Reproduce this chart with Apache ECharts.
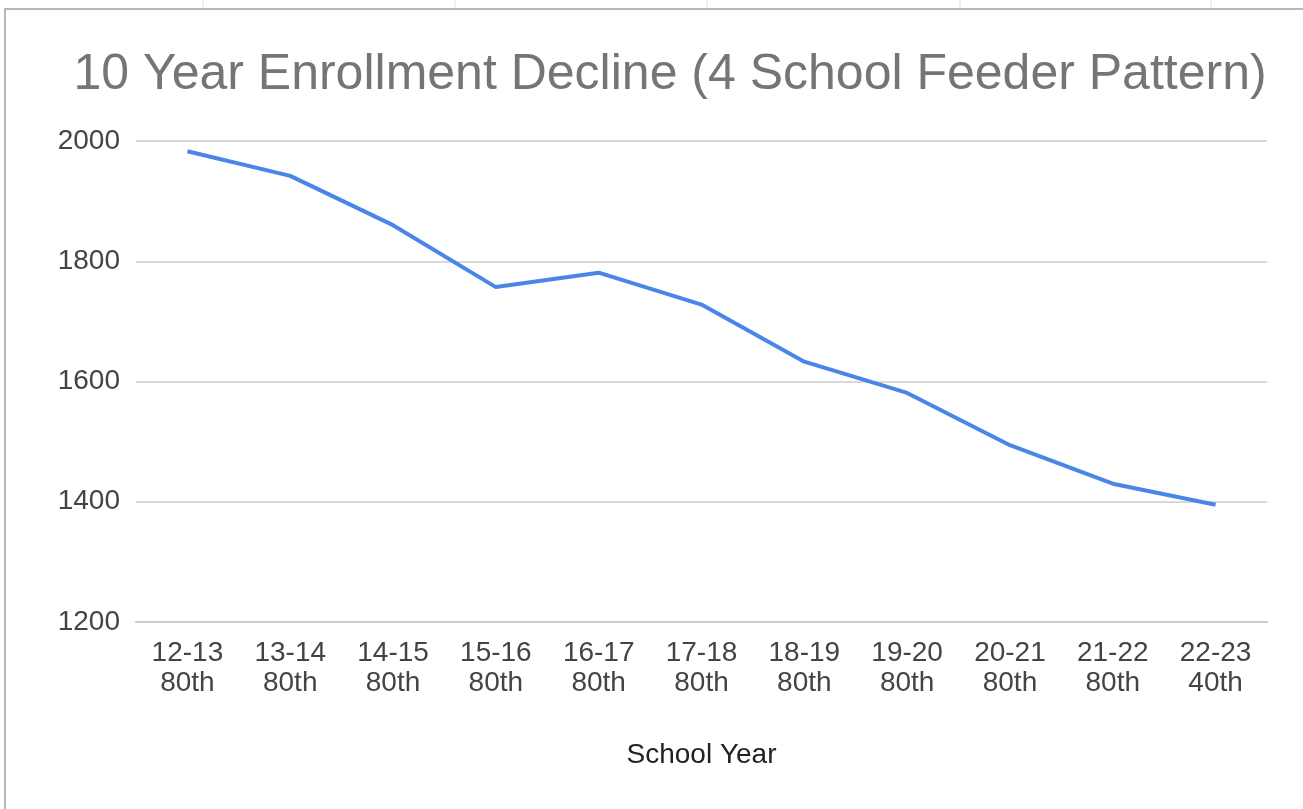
<!DOCTYPE html>
<html>
<head>
<meta charset="utf-8">
<script src="https://cdn.jsdelivr.net/npm/echarts@6/dist/echarts.min.js"></script>
<style>
html,body{margin:0;padding:0;background:#fff;}
#c{width:1303px;height:809px;}
</style>
</head>
<body>
<div id="c"></div>
<script>
const titleText = '10 Year Enrollment Decline (4 School Feeder Pattern)';
const xAxisName = 'School Year';
const schoolYears = ['12-13','13-14','14-15','15-16','16-17','17-18','18-19','19-20','20-21','21-22','22-23'];
const percentiles = ['80th','80th','80th','80th','80th','80th','80th','80th','80th','80th','40th'];
const enrollment = [1983, 1942, 1860, 1757, 1781, 1728, 1633, 1581, 1494, 1430, 1395];
const yMin = 1200, yMax = 2000, yStep = 200;

const categories = schoolYears.map((y, i) => y + '\n' + percentiles[i]);
const chart = echarts.init(document.getElementById('c'));
const font = 'Liberation Sans, Arial, sans-serif';
chart.setOption({
  animation: false,
  backgroundColor: '#fff',
  graphic: [
    {type:'rect', shape:{x:5, y:9, width:1320, height:830}, style:{fill:'none', stroke:'#b7b7b7', lineWidth:2}, silent:true, z:-10},
    {type:'line', shape:{x1:203,y1:0,x2:203,y2:8}, style:{stroke:'#e2e2e2', lineWidth:1}},
    {type:'line', shape:{x1:455,y1:0,x2:455,y2:8}, style:{stroke:'#e2e2e2', lineWidth:1}},
    {type:'line', shape:{x1:707,y1:0,x2:707,y2:8}, style:{stroke:'#e2e2e2', lineWidth:1}},
    {type:'line', shape:{x1:960,y1:0,x2:960,y2:8}, style:{stroke:'#e2e2e2', lineWidth:1}},
    {type:'line', shape:{x1:1211,y1:0,x2:1211,y2:8}, style:{stroke:'#e2e2e2', lineWidth:1}}
  ],
  title: {
    text: titleText,
    left: 665, top: 45, textAlign: 'center',
    textStyle: {fontFamily: font, fontSize: 50, fontWeight: 'normal', color: '#757575'}
  },
  grid: {left: 136, right: 36, top: 141, bottom: 187, containLabel: false},
  xAxis: {
    type: 'category',
    data: categories,
    boundaryGap: true,
    name: xAxisName,
    nameLocation: 'middle',
    nameGap: 119,
    nameTextStyle: {fontFamily: font, fontSize: 28, color: '#222'},
    axisLine: {show: true, lineStyle: {color: '#cccccc', width: 2}},
    axisTick: {show: false},
    axisLabel: {fontFamily: font, fontSize: 28, color: '#444', margin: 16, lineHeight: 30, interval: 0}
  },
  yAxis: {
    type: 'value',
    min: yMin, max: yMax, interval: yStep,
    axisLine: {show: false},
    axisTick: {show: false},
    axisLabel: {fontFamily: font, fontSize: 28, color: '#444', margin: 16, formatter: v => String(v)},
    splitLine: {lineStyle: {color: '#cccccc', width: 1.5}}
  },
  series: [{
    type: 'line',
    data: enrollment,
    symbol: 'none',
    lineStyle: {color: '#4a86e8', width: 4},
    itemStyle: {color: '#4a86e8'}
  }]
});
</script>
</body>
</html>
